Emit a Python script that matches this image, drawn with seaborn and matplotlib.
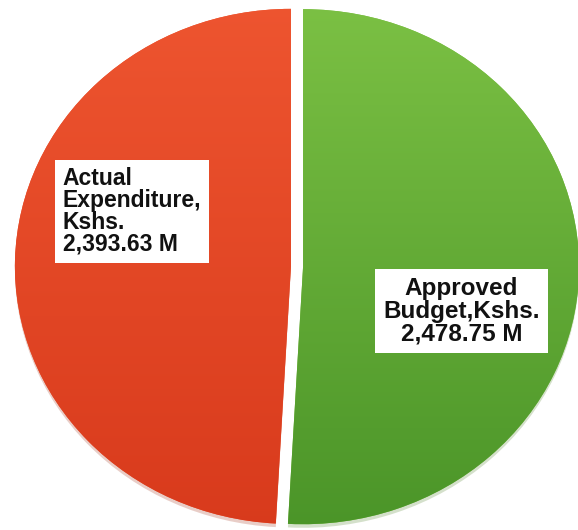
import numpy as np
import matplotlib
matplotlib.use("Agg")
import matplotlib.pyplot as plt
from matplotlib.colors import LinearSegmentedColormap
import seaborn as sns

# Budget performance (Kshs. millions)
categories = ["Approved\nBudget,Kshs.", "Actual\nExpenditure,\nKshs."]
values = [2478.75, 2393.63]
top_colors = ["#7cc144", "#ee5530"]
bottom_colors = ["#4a9428", "#d83a1c"]

sns.set_theme(style="white")
plt.rcParams["font.family"] = ["Liberation Sans", "DejaVu Sans"]

fig = plt.figure(figsize=(5.78, 5.30), dpi=100)
ax = fig.add_axes([0, 0, 1, 1])

wedges, _ = ax.pie(
    values,
    startangle=90,
    counterclock=False,
    explode=[0.022, 0.022],
    colors=top_colors,
    wedgeprops=dict(linewidth=0),
    shadow=dict(ox=0.0, oy=-0.01, shade=0.3, alpha=0.25),
)

# slightly stretched horizontally
ax.set_aspect("auto")
ax.axis("off")

# vertical shading inside each wedge
grad = np.linspace(1, 0, 256).reshape(-1, 1)
for w, ct, cb in zip(wedges, top_colors, bottom_colors):
    cmap = LinearSegmentedColormap.from_list("shade", [cb, ct])
    im = ax.imshow(grad, extent=[-1.1, 1.1, -1.05, 1.05], cmap=cmap,
                   aspect="auto", origin="upper", zorder=w.get_zorder() + 0.1,
                   interpolation="bilinear")
    im.set_clip_path(w)

ax.set_xlim(-1.076, 1.018)
ax.set_ylim(-1.023, 1.035)

labels = [f"{cat}\n{val:,.2f} M" for cat, val in zip(categories, values)]
box = dict(boxstyle="square,pad=0.32", facecolor="white", edgecolor="none")
ax.text(0.596, -0.173, labels[0], ha="center", va="center",
        multialignment="center", fontsize=17.5, fontweight="bold",
        color="#111111", bbox=box, linespacing=0.98, zorder=10)
ax.text(-0.598, 0.214, labels[1], ha="center", va="center",
        multialignment="left", fontsize=16.5, fontweight="bold",
        color="#111111", bbox=box, linespacing=0.93, zorder=10)

fig.savefig("out.png", dpi=100)
